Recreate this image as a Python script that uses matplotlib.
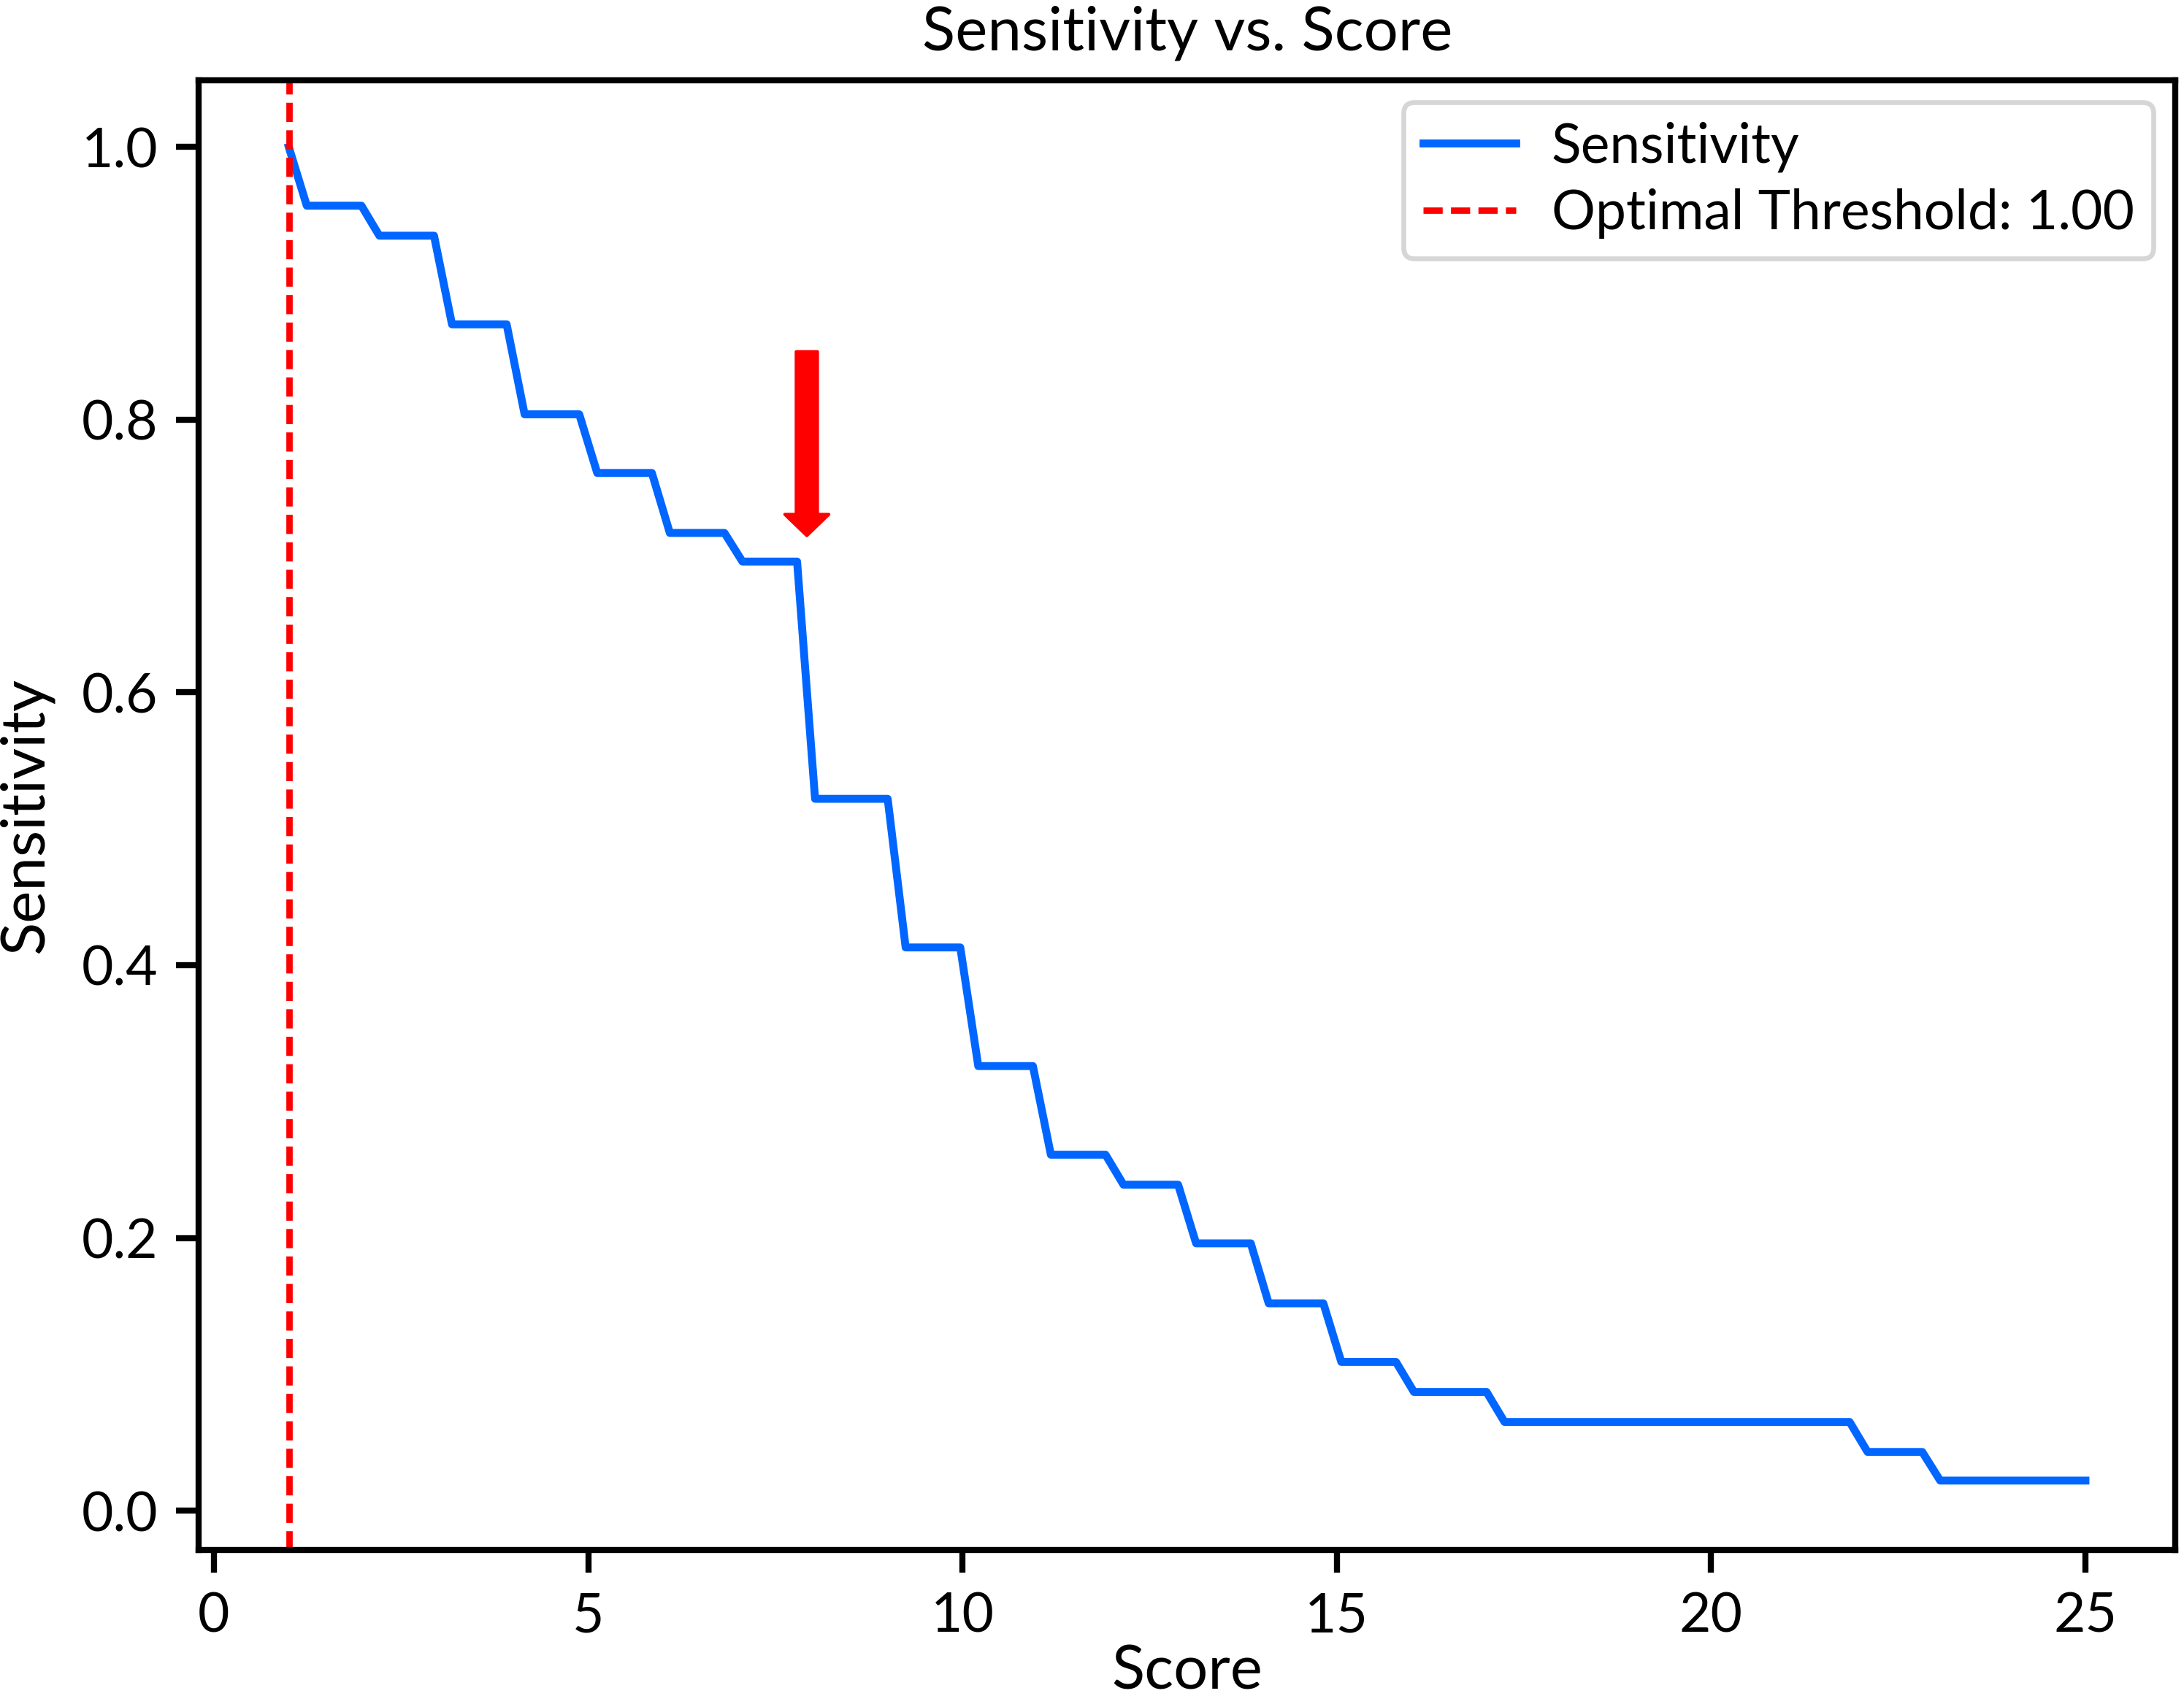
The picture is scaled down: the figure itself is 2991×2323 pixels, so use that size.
import matplotlib
matplotlib.use("Agg")
import matplotlib.pyplot as plt

plt.rcParams['font.family'] = ['Lato', 'DejaVu Sans']

# Vertices of the sensitivity curve
score = [1.00, 1.24, 1.97, 2.21, 2.94, 3.18, 3.91, 4.15, 4.88, 5.12,
         5.85, 6.09, 6.82, 7.06, 7.79, 8.03, 9.00, 9.24, 9.97, 10.21,
         10.94, 11.18, 11.91, 12.15, 12.88, 13.12, 13.85, 14.09, 14.82, 15.06,
         15.79, 16.03, 17.00, 17.24, 21.85, 22.09, 22.82, 23.06, 25.00]
sensitivity = [1.000, 0.957, 0.957, 0.935, 0.935, 0.870, 0.870, 0.804, 0.804, 0.761,
               0.761, 0.717, 0.717, 0.696, 0.696, 0.522, 0.522, 0.413, 0.413, 0.326,
               0.326, 0.261, 0.261, 0.239, 0.239, 0.196, 0.196, 0.152, 0.152, 0.109,
               0.109, 0.087, 0.087, 0.065, 0.065, 0.043, 0.043, 0.022, 0.022]

optimal_threshold = 1.00
arrow_x = 7.92
arrow_top = 0.85
arrow_tip = 0.715

x_ticks = [0, 5, 10, 15, 20, 25]
y_ticks = [0.0, 0.2, 0.4, 0.6, 0.8, 1.0]

FS_TICK = 18
FS_LEGEND = 18
FS_LABEL = 20

fig = plt.figure(figsize=(2991 / 300, 2323 / 300), dpi=300)
ax = fig.add_axes([0.0911, 0.0861, 0.9049, 0.8665])

ax.plot(score, sensitivity, color='#0066ff', lw=2.6, label='Sensitivity')
ax.axvline(optimal_threshold, color='red', lw=2.1, linestyle=(0, (3.0, 1.3)),
           label=f'Optimal Threshold: {optimal_threshold:.2f}')

ax.annotate('', xy=(arrow_x, arrow_tip), xytext=(arrow_x, arrow_top),
            arrowprops=dict(facecolor='red', edgecolor='red', width=7,
                            headwidth=14.5, headlength=7, shrink=0.0))

ax.set_xticks(x_ticks)
ax.set_yticks(y_ticks)
ax.set_xlim(-0.2, 26.2)
ax.set_ylim(-0.0289, 1.0489)

ax.set_title('Sensitivity vs. Score', fontsize=FS_LABEL, pad=10)
ax.set_xlabel('Score', fontsize=FS_LABEL, labelpad=1)
ax.set_ylabel('Sensitivity', fontsize=FS_LABEL, labelpad=9)
ax.tick_params(axis='both', labelsize=FS_TICK, width=2.0, length=7.5, pad=6)
for s in ax.spines.values():
    s.set_linewidth(2.0)

leg = ax.legend(loc='upper right', fontsize=FS_LEGEND, frameon=True,
                handlelength=1.7, handletextpad=0.65, labelspacing=0.3,
                borderpad=0.35, borderaxespad=0.4)
leg.get_frame().set_linewidth(1.6)

fig.savefig('out.png', dpi=300)
